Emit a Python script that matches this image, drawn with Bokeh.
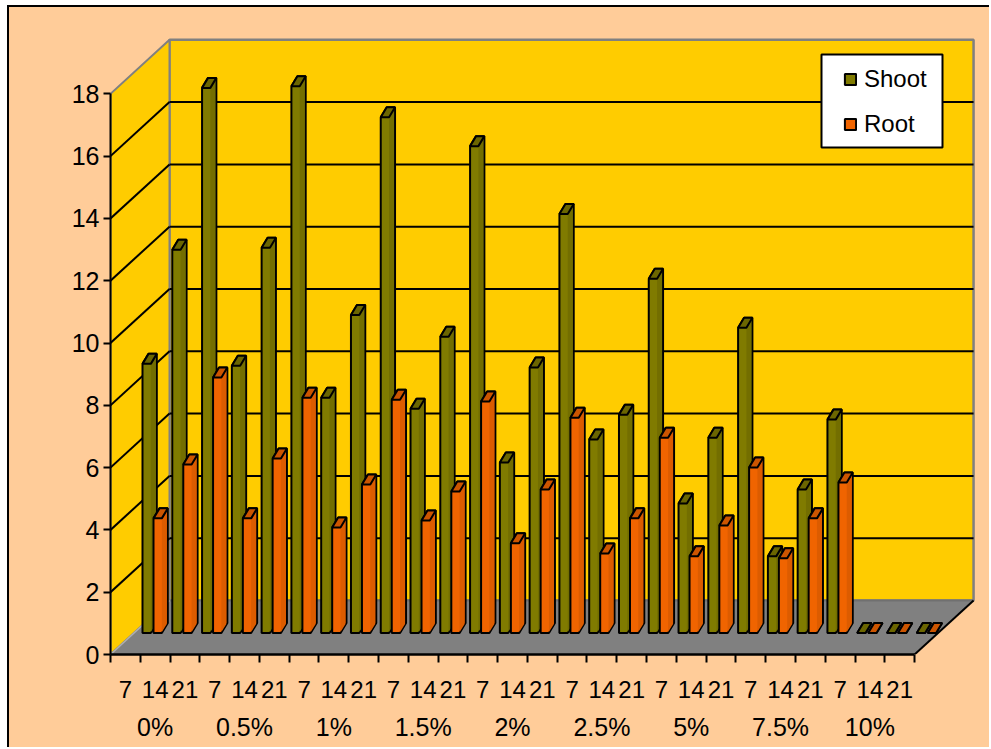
from bokeh.plotting import figure
from bokeh.models import (LinearAxis, FixedTicker, Range1d, Legend, LegendItem)
from bokeh.embed import file_html
from bokeh.resources import INLINE

# ---- data ----
days = ["7", "14", "21"]
groups = ["0%", "0.5%", "1%", "1.5%", "2%", "2.5%", "5%", "7.5%", "10%"]
shoot = [8.64, 12.30, 17.50, 8.58, 12.37, 17.55, 7.55, 10.21, 16.56,
         7.20, 9.51, 15.63, 5.47, 8.52, 13.45, 6.21, 7.01, 11.37,
         4.16, 6.27, 9.80, 2.46, 4.61, 6.85, 0, 0, 0]
root = [3.68, 5.41, 8.20, 3.68, 5.60, 7.55, 3.39, 4.77, 7.49,
        3.61, 4.54, 7.43, 2.88, 4.61, 6.91, 2.55, 3.68, 6.27,
        2.46, 3.45, 5.31, 2.40, 3.68, 4.83, 0, 0, 0]
y_ticks = [0, 2, 4, 6, 8, 10, 12, 14, 16, 18]

# ---- appearance ----
FONT = "Liberation Sans"
FS = "25px"
FS_SMALL = "24px"
BG, WALL, FLOOR, EDGE = "#FFCC99", "#FFCC00", "#808080", "#808080"
OLIVE, OLIVE_D, OLIVE_C = "#807B00", "#736E00", "#6B6600"
ORANGE, ORANGE_D, ORANGE_C = "#F06400", "#DC5C00", "#CC5500"

PX_X, PX_Y = 29.78, 31.15        # pixels per slot / per y unit
N = len(shoot)
YMAX = 18
DX, DY = 59 / PX_X, 54 / PX_Y    # depth of the 3-D box
BASE = 21.5 / PX_Y               # bars stand mid-depth on the floor
W, D, H = 8.3 / PX_X, 6 / PX_X, 10 / PX_Y
INSET = 1 / PX_X
SHOOT_OFF, ROOT_OFF = 32 / PX_X, 43 / PX_X

FIG_W, FIG_H = 982, 742
LEFT, BOTTOM = 101, 95
x_end = (FIG_W - LEFT) / PX_X
y_end = (FIG_H - BOTTOM) / PX_Y

p = figure(width=FIG_W, height=FIG_H, output_backend="svg", toolbar_location=None,
           x_axis_type=None, y_axis_type=None,
           x_range=Range1d(0, x_end), y_range=Range1d(0, y_end),
           min_border_left=LEFT, min_border_bottom=BOTTOM,
           min_border_top=0, min_border_right=0,
           background_fill_color=None, border_fill_color=None, outline_line_color=None)
p.grid.visible = False
p.styles = {"position": "absolute", "left": "7px", "top": "5px", "background-color": BG,
            "border-left": "2px solid black", "border-top": "2px solid black"}

# walls and floor
p.patch([DX, DX + N, DX + N, DX], [DY, DY, DY + YMAX, DY + YMAX],
        fill_color=WALL, line_color=EDGE, line_width=2.5)
p.patch([0, DX, DX, 0], [0, DY, DY + YMAX, YMAX],
        fill_color=WALL, line_color=EDGE, line_width=2)
p.patch([0, N, N + DX, DX], [0, 0, DY, DY], fill_color=FLOOR, line_color=None)
p.line([DX, DX + N], [DY, DY], line_color="#707070", line_width=2)
p.line([0, DX], [0, DY], line_color="#B0B0B0", line_width=1.5)
p.line([N, N + DX], [0, DY], line_color="black", line_width=2)

# grid lines on the back wall and the left wall
inner = [t for t in y_ticks if 0 < t < YMAX]
p.segment([DX] * len(inner), [t + DY for t in inner], [DX + N] * len(inner),
          [t + DY for t in inner], line_color="black", line_width=2)
p.segment([0] * len(inner), inner, [DX] * len(inner), [t + DY for t in inner],
          line_color="black", line_width=2)


def draw(values, offset, front, dark, cap):
    xs = [i + offset for i in range(N)]
    # silhouette of the whole bar, filled with the front colour
    body_x = [[x, x + W, x + W + D, x + W + D, x + D, x] for x in xs]
    body_y = [[BASE, BASE, BASE + H, BASE + H + v, BASE + H + v, BASE + v] for v in values]
    r = p.patches(body_x, body_y, fill_color=front, line_color="black", line_width=2)
    # darker side face, kept just inside the outline
    side_x = [[x + W, x + W + D - INSET, x + W + D - INSET, x + W] for x in xs]
    side_y = [[BASE + 1 / PX_Y, BASE + H - 1 / PX_Y, BASE + H + v, BASE + v + 1 / PX_Y]
              for v in values]
    p.patches(side_x, side_y, fill_color=dark, line_color=None)
    cap_x = [[x, x + W, x + W + D, x + D] for x in xs]
    cap_y = [[BASE + v, BASE + v, BASE + v + H, BASE + v + H] for v in values]
    p.patches(cap_x, cap_y, fill_color=cap, line_color="black", line_width=2)
    return r


r_shoot = draw(shoot, SHOOT_OFF, OLIVE, OLIVE_D, OLIVE_C)
r_root = draw(root, ROOT_OFF, ORANGE, ORANGE_D, ORANGE_C)

# legend panel
lx0, lx1 = (821 - 110) / PX_X, (942 - 110) / PX_X
ly0, ly1 = (654 - 147) / PX_Y, (654 - 54) / PX_Y
p.quad(left=[lx0], right=[lx1], bottom=[ly0], top=[ly1], fill_color="white",
       line_color="black", line_width=2)
legend = Legend(items=[LegendItem(label="Shoot", renderers=[r_shoot]),
                       LegendItem(label="Root", renderers=[r_root])],
                location=(725, 508), orientation="vertical",
                background_fill_alpha=0, border_line_alpha=0,
                padding=8, margin=0, spacing=17, glyph_width=14, glyph_height=14,
                label_standoff=7, label_text_font=FONT, label_text_font_size=FS_SMALL,
                label_text_color="black")
p.add_layout(legend, "center")

# axes
left_axis = LinearAxis(ticker=FixedTicker(ticks=y_ticks), bounds=(0, YMAX),
                       major_tick_in=0, major_tick_out=7, minor_tick_out=0, minor_tick_in=0,
                       axis_line_color="black", axis_line_width=2, major_tick_line_width=2,
                       major_label_text_font=FONT, major_label_text_font_size=FS,
                       major_label_standoff=4, major_label_text_color="black")
p.add_layout(left_axis, "left")

day_pos = [i + 0.5 for i in range(N)]
day_axis = LinearAxis(ticker=FixedTicker(ticks=day_pos, minor_ticks=list(range(N + 1))),
                      bounds=(0, N),
                      major_label_overrides={t: days[i % 3] for i, t in enumerate(day_pos)},
                      axis_line_color="black", axis_line_width=2.5,
                      major_tick_line_color=None, major_tick_in=0, major_tick_out=0,
                      minor_tick_line_color="black", minor_tick_line_width=2,
                      minor_tick_in=0, minor_tick_out=8,
                      major_label_text_font=FONT, major_label_text_font_size=FS_SMALL,
                      major_label_standoff=18, major_label_text_color="black")
p.add_layout(day_axis, "below")

grp_pos = [3 * i + 1.5 for i in range(len(groups))]
grp_axis = LinearAxis(ticker=FixedTicker(ticks=grp_pos),
                      major_label_overrides={t: groups[i] for i, t in enumerate(grp_pos)},
                      axis_line_color=None, major_tick_line_color=None, minor_tick_line_color=None,
                      major_tick_in=0, major_tick_out=0, minor_tick_in=0, minor_tick_out=0,
                      major_label_text_font=FONT, major_label_text_font_size=FS,
                      major_label_standoff=12, major_label_text_color="black")
p.add_layout(grp_axis, "below")

open("out.html", "w").write(file_html(p, INLINE))
